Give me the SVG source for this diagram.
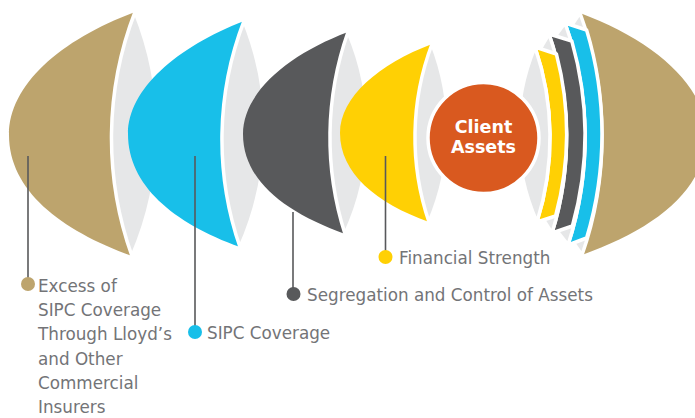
<svg xmlns="http://www.w3.org/2000/svg" width="695" height="418" viewBox="0 0 695 418">
<style>
.lens{fill:#e6e7e8;stroke:#fff;stroke-width:3.5;stroke-linejoin:round}
.band{stroke:#fff;stroke-width:3.5;stroke-linejoin:round}
.gold{fill:#bda46d}.blue{fill:#18bfe9}.dark{fill:#58595b}.yellow{fill:#ffd004}
.lead{stroke:#58595b;stroke-width:1.6;fill:none}
.lbl{font-family:"DejaVu Sans","Liberation Sans",sans-serif;font-size:16.8px;fill:#737477}
.ctr{font-family:"DejaVu Sans","Liberation Sans",sans-serif;font-size:17.5px;font-weight:bold;fill:#fff}
</style>
<rect width="695" height="418" fill="#fff"/>
<g id="layer-excess">
<path class="gold" d="M135,12 C60,40 9,85 9,135 C9,190 60,230 132,256 A349.3 349.3 0 0 1 135,12 Z"/>
<path class="lens" d="M135,12 A316 316 0 0 1 132,256 A349.3 349.3 0 0 1 135,12 Z"/>
<path class="gold" d="M580,13 C655,41 706,86 706,135 C706,190 655,229 582,255 A359 359 0 0 0 580,13 Z"/>
<path class="lens" d="M580,13 A359 359 0 0 1 582,255 A203 203 0 0 1 580,13 Z"/>
</g>
<g id="layer-sipc">
<path class="blue" d="M244,21 C177,47 128,89 128,134 C128,185 173,223 240,247 A329.2 329.2 0 0 1 244,21 Z"/>
<path class="lens" d="M244,21 A289.1 289.1 0 0 1 240,247 A329.2 329.2 0 0 1 244,21 Z"/>
<path class="blue band" d="M565,23 L586.6,30 A359 359 0 0 1 586.6,238 L568,245 A342.2 342.2 0 0 0 565,23 Z"/>
<path class="lens" d="M565,23 A342.2 342.2 0 0 1 568,245 A174 174 0 0 1 565,23 Z"/>
</g>
<g id="layer-segregation">
<path class="dark" d="M348,32 C287,55 243,93 243,134 C243,180 284,212 345,234 A317.4 317.4 0 0 1 348,32 Z"/>
<path class="lens" d="M348,32 A248 248 0 0 1 345,234 A317.4 317.4 0 0 1 348,32 Z"/>
<path class="dark band" d="M549,34 L571.8,41 A342.2 342.2 0 0 1 572.4,226 L552,233 A317.4 317.4 0 0 0 549,34 Z"/>
<path class="lens" d="M549,34 A317.4 317.4 0 0 1 552,233 A180 180 0 0 1 549,34 Z"/>
</g>
<g id="layer-financial">
<path class="yellow" d="M432,44 C379,64 340,97 340,133 C340,173 376,203 429,222 A263.3 263.3 0 0 1 432,44 Z"/>
<path class="lens" d="M432,44 A235 235 0 0 1 429,222 A263.3 263.3 0 0 1 432,44 Z"/>
<path class="yellow band" d="M535,47 L556.4,54 A317.4 317.4 0 0 1 555.6,216 L537,222 A280.4 280.4 0 0 0 535,47 Z"/>
<path class="lens" d="M535,47 A280.4 280.4 0 0 1 537,222 A221.7 221.7 0 0 1 535,47 Z"/>
</g>
<g id="client-assets">
<circle cx="483.5" cy="138" r="55.5" fill="#d9591f" stroke="#fff" stroke-width="3.5"/>
<text class="ctr" x="483.5" y="132.5" text-anchor="middle">Client</text>
<text class="ctr" x="483.5" y="152.5" text-anchor="middle">Assets</text>
</g>
<g id="connectors">
<line class="lead" x1="28" y1="156" x2="28" y2="284"/>
<line class="lead" x1="195" y1="156" x2="195" y2="332"/>
<line class="lead" x1="293" y1="212" x2="293" y2="294"/>
<line class="lead" x1="385.5" y1="156" x2="385.5" y2="257"/>
</g>
<g id="label-excess">
<circle cx="28" cy="284" r="7" fill="#bda46d"/>
<text class="lbl" x="38" y="292">Excess of</text>
<text class="lbl" x="38" y="316.2">SIPC Coverage</text>
<text class="lbl" x="38" y="340.4">Through Lloyd’s</text>
<text class="lbl" x="38" y="364.6">and Other</text>
<text class="lbl" x="38" y="388.8">Commercial</text>
<text class="lbl" x="38" y="413">Insurers</text>
</g>
<g id="label-sipc">
<circle cx="195" cy="332" r="7" fill="#18bfe9"/>
<text class="lbl" x="207" y="339.3">SIPC Coverage</text>
</g>
<g id="label-segregation">
<circle cx="293.5" cy="294" r="7" fill="#58595b"/>
<text class="lbl" x="307" y="300.5">Segregation and Control of Assets</text>
</g>
<g id="label-financial">
<circle cx="385.5" cy="257" r="7" fill="#ffd004"/>
<text class="lbl" x="399" y="263.5">Financial Strength</text>
</g>
</svg>
